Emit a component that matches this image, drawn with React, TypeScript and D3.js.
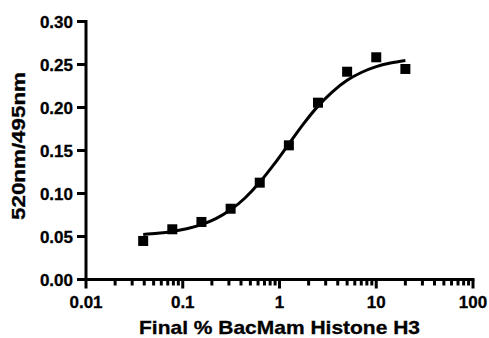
import React from "react";
import * as d3 from "d3";

const xValues = [0.039, 0.078, 0.156, 0.3125, 0.625, 1.25, 2.5, 5, 10, 20];
const yValues = [0.0448, 0.0584, 0.0669, 0.0823, 0.1126, 0.156, 0.2056, 0.2416, 0.2584, 0.2448];

const curveX = [0.039, 0.055, 0.078, 0.11, 0.156, 0.22, 0.3125, 0.44, 0.625, 0.88, 1.25, 1.77, 2.5, 3.5, 5, 7, 10, 14, 20];
const curveY = [0.0524, 0.0538, 0.0559, 0.059, 0.0638, 0.0708, 0.081, 0.0948, 0.113, 0.1341, 0.1577, 0.181, 0.2016, 0.218, 0.2316, 0.2407, 0.2475, 0.2517, 0.2547];

const xTickValues = [0.01, 0.1, 1, 10, 100];
const xTickLabels = ["0.01", "0.1", "1", "10", "100"];
const yTickValues = [0, 0.05, 0.1, 0.15, 0.2, 0.25, 0.3];
const yTickLabels = ["0.00", "0.05", "0.10", "0.15", "0.20", "0.25", "0.30"];

const xTitle = "Final % BacMam Histone H3";
const yTitle = "520nm/495nm";

export default function App() {
  const W = 489, H = 338;
  const x = d3.scaleLog().domain([0.01, 100]).range([86, 473]);
  const y = d3.scaleLinear().domain([0, 0.3]).range([279.5, 21.5]);
  const font = "'Liberation Sans', Arial, Helvetica, sans-serif";

  const minor: number[] = [];
  for (let e = -2; e < 2; e++) {
    for (let m = 2; m <= 9; m++) minor.push(m * Math.pow(10, e));
  }

  const line = d3
    .line<number>()
    .x((_, i) => x(curveX[i]))
    .y((d) => y(d))
    .curve(d3.curveMonotoneX);

  const x0 = x(0.01);
  const y0 = y(0);
  const sq = 10;

  return (
    <svg
      width={W}
      height={H}
      style={{ position: "absolute", left: 0, top: 0, background: "#fff" }}
    >
      <rect width={W} height={H} fill="#fff" />
      <path d={line(curveY) || ""} fill="none" stroke="#000" strokeWidth={3} />
      {xValues.map((v, i) => (
        <rect
          key={i}
          x={x(v) - sq / 2}
          y={y(yValues[i]) - sq / 2}
          width={sq}
          height={sq}
          fill="#000"
        />
      ))}
      <line x1={x0} x2={x0} y1={y(0.3) - 1.5} y2={y0 + 1.5} stroke="#000" strokeWidth={3} />
      {yTickValues.map((v, i) => (
        <g key={i}>
          <line x1={x0 - 9} x2={x0} y1={y(v)} y2={y(v)} stroke="#000" strokeWidth={3} />
          <text
            x={73}
            y={y(v) + 6}
            textAnchor="end"
            fontFamily={font}
            fontWeight="bold"
            fontSize={17}
            stroke="#000"
            strokeWidth={0.3}
            fill="#000"
          >
            {yTickLabels[i]}
          </text>
        </g>
      ))}
      <line x1={x0 - 1.5} x2={x(100) + 1.5} y1={y0} y2={y0} stroke="#000" strokeWidth={3} />
      {xTickValues.map((v, i) => (
        <g key={i}>
          <line x1={x(v)} x2={x(v)} y1={y0} y2={y0 + 9} stroke="#000" strokeWidth={3} />
          <text
            x={x(v)}
            y={308}
            textAnchor="middle"
            fontFamily={font}
            fontWeight="bold"
            fontSize={17}
            stroke="#000"
            strokeWidth={0.3}
            fill="#000"
          >
            {xTickLabels[i]}
          </text>
        </g>
      ))}
      {minor.map((v, i) => (
        <line key={i} x1={x(v)} x2={x(v)} y1={y0} y2={y0 + 6} stroke="#000" strokeWidth={3} />
      ))}
      <text
        x={279.5}
        y={334}
        textAnchor="middle"
        fontFamily={font}
        fontWeight="bold"
        fontSize={18.5}
        textLength={281}
        lengthAdjust="spacingAndGlyphs"
        stroke="#000"
        strokeWidth={0.3}
        fill="#000"
      >
        {xTitle}
      </text>
      <text
        transform={`translate(25,146) rotate(-90)`}
        textAnchor="middle"
        fontFamily={font}
        fontWeight="bold"
        fontSize={17.5}
        textLength={148}
        lengthAdjust="spacingAndGlyphs"
        stroke="#000"
        strokeWidth={0.3}
        fill="#000"
      >
        {yTitle}
      </text>
    </svg>
  );
}
